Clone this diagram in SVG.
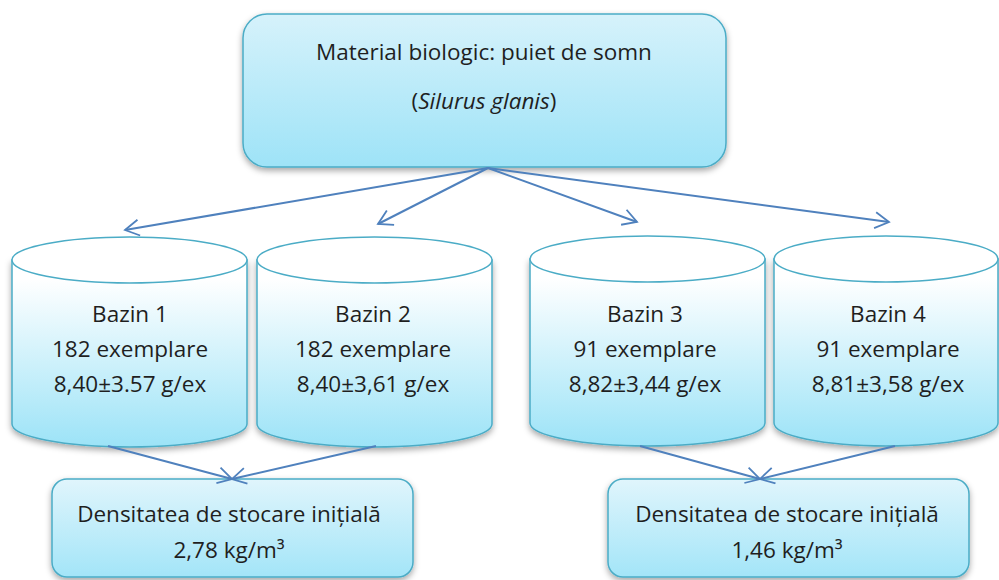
<svg xmlns="http://www.w3.org/2000/svg" width="999" height="580" viewBox="0 0 999 580">
<defs>
<style>
.t{font-family:"Open Sans","Liberation Sans",sans-serif;font-size:22.5px;fill:#1f1f1f;text-anchor:middle}
.box{stroke:#4bacc6;stroke-width:1.5}
.cyl{stroke:#4bacc6;stroke-width:1.5}
.conn{stroke:#4f81bd;stroke-width:2;fill:none;marker-end:url(#arr)}
</style>
<linearGradient id="gTop" x1="0" y1="0" x2="0" y2="1">
<stop offset="0" stop-color="#d6f2fb"/>
<stop offset="1" stop-color="#9ee3f7"/>
</linearGradient>
<linearGradient id="gBot" x1="0" y1="0" x2="0" y2="1">
<stop offset="0" stop-color="#e0f5fc"/>
<stop offset="1" stop-color="#a3e5f8"/>
</linearGradient>
<linearGradient id="gCyl" x1="0" y1="0" x2="0" y2="1">
<stop offset="0.1" stop-color="#ffffff"/>
<stop offset="1" stop-color="#9ce3f7"/>
</linearGradient>
<filter id="sh" x="-10%" y="-10%" width="120%" height="130%">
<feDropShadow dx="0" dy="3" stdDeviation="3" flood-color="#000" flood-opacity="0.35"/>
</filter>
<marker id="arr" viewBox="0 0 18 18" refX="16" refY="9" markerWidth="18" markerHeight="18" markerUnits="userSpaceOnUse" orient="auto">
<path d="M2,1 L16,9 L2,17" fill="none" stroke="#4f81bd" stroke-width="1.8"/>
</marker>
</defs>
<rect width="999" height="580" fill="#ffffff"/>

<g id="top">
<rect class="box" x="243" y="14" width="483" height="153" rx="24" fill="url(#gTop)" filter="url(#sh)"/>
<text class="t" x="484" y="60">Material biologic: puiet de somn</text>
<text class="t" x="484" y="109">(<tspan font-style="italic">Silurus glanis</tspan>)</text>
</g>

<g id="bazin1">
<path class="cyl" d="M12,260 L12,424 A117.5,23 0 0 0 247,424 L247,260 Z" fill="url(#gCyl)" filter="url(#sh)"/>
<ellipse class="cyl" cx="129.5" cy="260" rx="117.5" ry="23" fill="#ffffff"/>
<text class="t" x="130" y="322">Bazin 1</text>
<text class="t" x="130" y="357">182 exemplare</text>
<text class="t" x="130" y="392">8,40±3.57 g/ex</text>
</g>

<g id="bazin2">
<path class="cyl" d="M257,260 L257,424 A117.5,23 0 0 0 492,424 L492,260 Z" fill="url(#gCyl)" filter="url(#sh)"/>
<ellipse class="cyl" cx="374.5" cy="260" rx="117.5" ry="23" fill="#ffffff"/>
<text class="t" x="373" y="322">Bazin 2</text>
<text class="t" x="373" y="357">182 exemplare</text>
<text class="t" x="373" y="392">8,40±3,61 g/ex</text>
</g>

<g id="bazin3">
<path class="cyl" d="M530,259 L530,423 A117.5,23 0 0 0 765,423 L765,259 Z" fill="url(#gCyl)" filter="url(#sh)"/>
<ellipse class="cyl" cx="647.5" cy="259" rx="117.5" ry="23" fill="#ffffff"/>
<text class="t" x="645" y="322">Bazin 3</text>
<text class="t" x="645" y="357">91 exemplare</text>
<text class="t" x="645" y="392">8,82±3,44 g/ex</text>
</g>

<g id="bazin4">
<path class="cyl" d="M774,259 L774,423 A112,23 0 0 0 998,423 L998,259 Z" fill="url(#gCyl)" filter="url(#sh)"/>
<ellipse class="cyl" cx="886" cy="259" rx="112" ry="23" fill="#ffffff"/>
<text class="t" x="888" y="322">Bazin 4</text>
<text class="t" x="888" y="357">91 exemplare</text>
<text class="t" x="888" y="392">8,81±3,58 g/ex</text>
</g>

<g id="dens1">
<rect class="box" x="52" y="479" width="361" height="98" rx="15" fill="url(#gBot)" filter="url(#sh)"/>
<text class="t" x="229" y="522">Densitatea de stocare inițială</text>
<text class="t" x="229" y="558">2,78 kg/m³</text>
</g>

<g id="dens2">
<rect class="box" x="608" y="479" width="361" height="98" rx="15" fill="url(#gBot)" filter="url(#sh)"/>
<text class="t" x="787" y="522">Densitatea de stocare inițială</text>
<text class="t" x="787" y="558">1,46 kg/m³</text>
</g>

<g id="connectors">
<line class="conn" x1="488" y1="168" x2="125" y2="230"/>
<line class="conn" x1="488" y1="168" x2="378" y2="224"/>
<line class="conn" x1="488" y1="168" x2="637" y2="222"/>
<line class="conn" x1="488" y1="168" x2="889" y2="222"/>
<line class="conn" x1="108" y1="446" x2="232" y2="479"/>
<line class="conn" x1="376" y1="446" x2="232" y2="479"/>
<line class="conn" x1="640" y1="446" x2="760" y2="479"/>
<line class="conn" x1="895" y1="446" x2="760" y2="479"/>
</g>
</svg>
